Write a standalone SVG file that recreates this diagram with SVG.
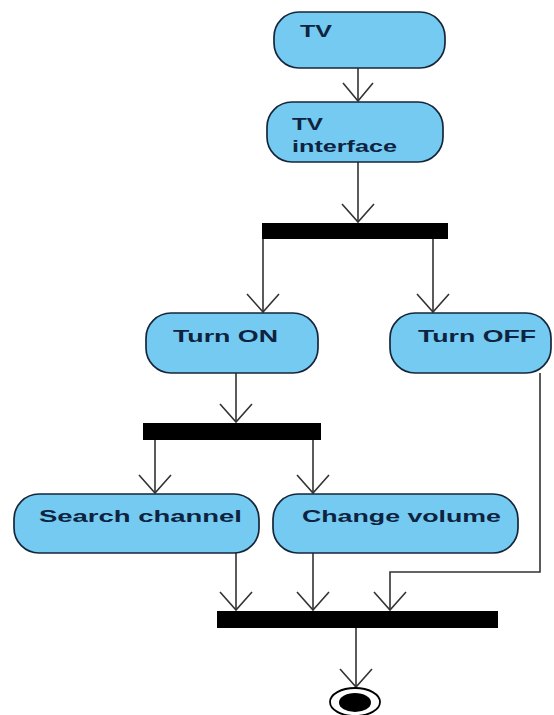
<svg xmlns="http://www.w3.org/2000/svg" width="554" height="715" viewBox="0 0 554 715">
  <defs>
    <style>
      .act { fill: #74caf1; stroke: #16263a; stroke-width: 1.7; }
      .lbl { font-family: "Liberation Sans", Arial, sans-serif; font-weight: bold; font-size: 17px; fill: #0d2340; }
      .bar { fill: #000; }
      .flow { fill: none; stroke: #333; stroke-width: 1.6; }
    </style>
  </defs>
  <rect width="554" height="715" fill="#fff"/>

  <!-- control flows -->
  <g id="connectors">
    <path class="flow" d="M358 68 V101"/>
    <path class="flow" d="M358 162 V222"/>
    <path class="flow" d="M263 239 V312"/>
    <path class="flow" d="M433 239 V312"/>
    <path class="flow" d="M236 373 V422"/>
    <path class="flow" d="M155 440 V493"/>
    <path class="flow" d="M313 440 V493"/>
    <path class="flow" d="M236 553 V610"/>
    <path class="flow" d="M313 553 V610"/>
    <path class="flow" d="M540 373 V572 H390 V610"/>
    <path class="flow" d="M356 628 V687"/>
    <!-- open arrowheads at targets -->
    <g class="flow">
      <path d="M343 83 L358 101 L373 83"/>
      <path d="M342 204 L358 222 L374 204"/>
      <path d="M247 294 L263 312 L279 294"/>
      <path d="M417 294 L433 312 L449 294"/>
      <path d="M220 404 L236 422 L252 404"/>
      <path d="M139 475 L155 493 L171 475"/>
      <path d="M297 475 L313 493 L329 475"/>
      <path d="M220 592 L236 610 L252 592"/>
      <path d="M297 592 L313 610 L329 592"/>
      <path d="M374 592 L390 610 L406 592"/>
      <path d="M340 669 L356 687 L372 669"/>
    </g>
  </g>

  <g id="tv">
    <rect class="act" x="274" y="12" width="171" height="56" rx="25"/>
    <text class="lbl" x="300" y="37" textLength="32" lengthAdjust="spacingAndGlyphs">TV</text>
  </g>
  <g id="tv-interface">
    <rect class="act" x="267" y="102" width="176" height="60" rx="25"/>
    <text class="lbl" x="292" y="130" textLength="31" lengthAdjust="spacingAndGlyphs">TV</text>
    <text class="lbl" x="292" y="152" textLength="105" lengthAdjust="spacingAndGlyphs">interface</text>
  </g>
  <g id="fork-1">
    <rect class="bar" x="262" y="223" width="186" height="16"/>
  </g>
  <g id="turn-on">
    <rect class="act" x="146" y="313" width="172" height="60" rx="25"/>
    <text class="lbl" x="173" y="342" textLength="105" lengthAdjust="spacingAndGlyphs">Turn ON</text>
  </g>
  <g id="turn-off">
    <rect class="act" x="390" y="313" width="161" height="60" rx="25"/>
    <text class="lbl" x="418" y="342" textLength="118" lengthAdjust="spacingAndGlyphs">Turn OFF</text>
  </g>
  <g id="fork-2">
    <rect class="bar" x="143" y="423" width="178" height="17"/>
  </g>
  <g id="search-channel">
    <rect class="act" x="14" y="494" width="245" height="59" rx="25"/>
    <text class="lbl" x="39" y="522" textLength="203" lengthAdjust="spacingAndGlyphs">Search channel</text>
  </g>
  <g id="change-volume">
    <rect class="act" x="273" y="494" width="245" height="59" rx="25"/>
    <text class="lbl" x="302" y="522" textLength="199" lengthAdjust="spacingAndGlyphs">Change volume</text>
  </g>
  <g id="join">
    <rect class="bar" x="217" y="611" width="281" height="17"/>
  </g>
  <g id="final">
    <ellipse cx="355" cy="702" rx="25" ry="14" fill="#fff" stroke="#000" stroke-width="1.8"/>
    <ellipse cx="355" cy="702.5" rx="16" ry="9.5" fill="#000"/>
  </g>
</svg>
